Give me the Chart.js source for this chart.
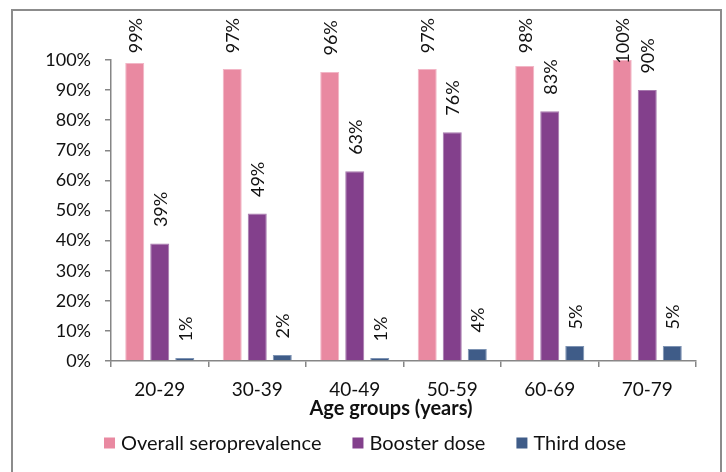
<!DOCTYPE html>
<html>
<head>
<meta charset="utf-8">
<script src="https://cdn.jsdelivr.net/npm/chart.js@4/dist/chart.umd.min.js"></script>
<style>
  html, body { margin: 0; padding: 0; background: #ffffff; }
  #wrap { position: relative; width: 726px; height: 472px; }
</style>
</head>
<body>
<div id="wrap"><canvas id="chart" width="726" height="472"></canvas></div>
<script>
// Age groups on the category axis
const ageGroups = ['20-29', '30-39', '40-49', '50-59', '60-69', '70-79'];

// Percentages per age group
const overallSeroprevalence = [99, 97, 96, 97, 98, 100];
const boosterDose = [39, 49, 63, 76, 83, 90];
const thirdDose = [1, 2, 1, 4, 5, 5];

// Value axis ticks
const yTicks = [0, 10, 20, 30, 40, 50, 60, 70, 80, 90, 100];

const xTitle = 'Age groups (years)';

const FONT = 'Lato, "Open Sans", "Liberation Sans", sans-serif';
const AXIS_GREY = '#868686';
const TEXT = '#111111';

// Outer frame of the figure
const framePlugin = {
  id: 'frame',
  beforeDraw(chart) {
    const ctx = chart.ctx;
    ctx.save();
    ctx.fillStyle = '#ffffff';
    ctx.fillRect(0, 0, chart.width, chart.height);
    ctx.strokeStyle = '#8c8c8c';
    ctx.lineWidth = 2;
    ctx.strokeRect(12, 10, 709, 500);
    ctx.restore();
  }
};

// Rotated value labels above every bar
const valueLabelPlugin = {
  id: 'valueLabels',
  afterDatasetsDraw(chart) {
    const ctx = chart.ctx;
    ctx.save();
    ctx.font = '18px ' + FONT;
    ctx.fillStyle = TEXT;
    ctx.textAlign = 'left';
    ctx.textBaseline = 'middle';
    chart.data.datasets.forEach((ds, di) => {
      const meta = chart.getDatasetMeta(di);
      meta.data.forEach((bar, i) => {
        const text = ds.data[i] + '%';
        const w = ctx.measureText(text).width;
        const anchorY = Math.max(bar.y - 16.5, 18 + w);
        ctx.save();
        ctx.translate(bar.x + 1, anchorY);
        ctx.rotate(-Math.PI / 2);
        ctx.fillText(text, 0, 0);
        ctx.restore();
      });
    });
    ctx.restore();
  }
};

// Category axis title and legend row below the axis
const bottomTextPlugin = {
  id: 'bottomText',
  afterDraw(chart) {
    const ctx = chart.ctx;
    ctx.save();
    ctx.textBaseline = 'middle';

    ctx.font = 'bold 20px ' + FONT;
    ctx.fillStyle = TEXT;
    ctx.textAlign = 'center';
    ctx.fillText(xTitle, 391, 409);

    const box = 11, boxGap = 6, itemGap = 31, cy = 443;
    ctx.font = '20px ' + FONT;
    ctx.textAlign = 'left';
    const items = chart.data.datasets.map(ds => ({
      label: ds.label, color: ds.backgroundColor,
      w: box + boxGap + ctx.measureText(ds.label).width
    }));
    const total = items.reduce((s, it) => s + it.w, 0) + itemGap * (items.length - 1);
    let x = 365 - total / 2;
    items.forEach(it => {
      ctx.fillStyle = it.color;
      ctx.fillRect(x, cy - box / 2, box, box);
      ctx.fillStyle = TEXT;
      ctx.fillText(it.label, x + box + boxGap, cy + 1);
      x += it.w + itemGap;
    });
    ctx.restore();
  }
};

new Chart(document.getElementById('chart'), {
  type: 'bar',
  data: {
    labels: ageGroups,
    datasets: [
      { label: 'Overall seroprevalence', data: overallSeroprevalence,
        backgroundColor: '#E989A1', borderColor: '#F2B6C6', borderWidth: 1 },
      { label: 'Booster dose', data: boosterDose,
        backgroundColor: '#83408C', borderColor: '#A679AD', borderWidth: 1 },
      { label: 'Third dose', data: thirdDose,
        backgroundColor: '#3F5C88', borderColor: '#7D93B3', borderWidth: 1 }
    ]
  },
  options: {
    responsive: false,
    animation: false,
    devicePixelRatio: 1,
    layout: { padding: { top: 60, right: 30, bottom: 51, left: 0 } },
    datasets: { bar: { categoryPercentage: 0.77, barPercentage: 0.76 } },
    plugins: {
      legend: { display: false },
      tooltip: { enabled: false }
    },
    scales: {
      x: {
        grid: { display: true, drawOnChartArea: false, offset: true,
                color: AXIS_GREY, tickLength: 6, lineWidth: 1.5 },
        border: { color: AXIS_GREY, width: 1.5 },
        ticks: { color: TEXT, font: { family: FONT, size: 19 }, padding: 11, maxRotation: 0 },
        afterFit(scale) { scale.height = 60; }
      },
      y: {
        min: 0, max: 100,
        afterBuildTicks(scale) { scale.ticks = yTicks.map(v => ({ value: v })); },
        grid: { display: true, drawOnChartArea: false, color: AXIS_GREY,
                tickLength: 6, lineWidth: 1.5 },
        border: { color: AXIS_GREY, width: 1.5 },
        ticks: { color: TEXT, font: { family: FONT, size: 18 }, padding: 14,
                 callback: v => v + '%' },
        afterFit(scale) { scale.width = 111; }
      }
    }
  },
  plugins: [framePlugin, valueLabelPlugin, bottomTextPlugin]
});
</script>
</body>
</html>
